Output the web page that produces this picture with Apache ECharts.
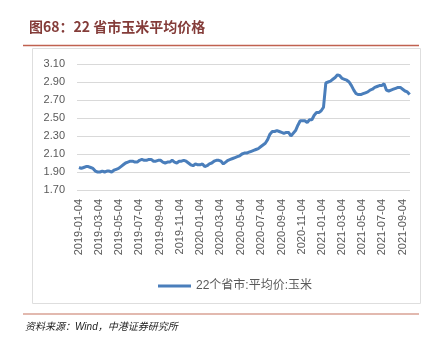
<!DOCTYPE html>
<html>
<head>
<meta charset="utf-8">
<script src="https://cdn.jsdelivr.net/npm/echarts@6/dist/echarts.min.js"></script>
<style>
  html, body { margin: 0; padding: 0; background: #fff; }
  #chart { width: 433px; height: 345px; }
</style>
</head>
<body>
<div id="chart"></div>
<script>
// Weekly average corn price across 22 provinces/cities (yuan/kg), first week 2019-01-04
const seriesName = '22个省市:平均价:玉米';
const firstWeek = [2019, 0, 4];
const weeklyPrice = [
  1.95, 1.94, 1.95, 1.96, 1.96, 1.95, 1.94, 1.91, 1.90, 1.90,
  1.91, 1.90, 1.91, 1.91, 1.90, 1.92, 1.93, 1.94, 1.96, 1.98,
  2.00, 2.01, 2.02, 2.02, 2.01, 2.01, 2.03, 2.04, 2.03, 2.03,
  2.04, 2.04, 2.02, 2.02, 2.03, 2.03, 2.01, 2.00, 2.01, 2.01,
  2.03, 2.01, 2.00, 2.02, 2.02, 2.03, 2.02, 2.00, 1.98, 1.97,
  1.99, 1.98, 1.98, 1.99, 1.96, 1.97, 1.99, 2.00, 2.02, 2.03,
  2.03, 2.02, 1.99, 2.01, 2.03, 2.04, 2.05, 2.06, 2.07, 2.08,
  2.10, 2.11, 2.11, 2.12, 2.13, 2.14, 2.15, 2.16, 2.18, 2.20,
  2.22, 2.26, 2.32, 2.35, 2.35, 2.36, 2.35, 2.34, 2.33, 2.34,
  2.34, 2.30, 2.33, 2.36, 2.42, 2.47, 2.47, 2.47, 2.45, 2.48,
  2.48, 2.53, 2.56, 2.56, 2.58, 2.62, 2.89, 2.90, 2.91, 2.93,
  2.95, 2.98, 2.97, 2.94, 2.93, 2.92, 2.90, 2.86, 2.81, 2.77,
  2.76, 2.76, 2.77, 2.78, 2.79, 2.81, 2.82, 2.84, 2.85, 2.86,
  2.86, 2.88, 2.81, 2.80, 2.81, 2.82, 2.83, 2.84, 2.84, 2.82,
  2.80, 2.79, 2.76
];
const tickLabels = [
  '2019-01-04', '2019-03-04', '2019-05-04', '2019-07-04', '2019-09-04',
  '2019-11-04', '2020-01-04', '2020-03-04', '2020-05-04', '2020-07-04',
  '2020-09-04', '2020-11-04', '2021-01-04', '2021-03-04', '2021-05-04',
  '2021-07-04', '2021-09-04'
];
const yTicks = [1.70, 1.90, 2.10, 2.30, 2.50, 2.70, 2.90, 3.10];

function parseDay(s) {
  const p = s.split('-').map(Number);
  return new Date(p[0], p[1] - 1, p[2]).getTime();
}
function pad(n) { return (n < 10 ? '0' : '') + n; }
function fmtDay(t) {
  const d = new Date(t);
  return d.getFullYear() + '-' + pad(d.getMonth() + 1) + '-' + pad(d.getDate());
}

const points = weeklyPrice.map((v, i) => [
  new Date(firstWeek[0], firstWeek[1], firstWeek[2] + 7 * i).getTime(), v
]);
const axisMin = new Date(firstWeek[0], firstWeek[1], firstWeek[2] - 6).getTime();
const axisMax = new Date(firstWeek[0], firstWeek[1], firstWeek[2] + 995).getTime();

const chart = echarts.init(document.getElementById('chart'), null, { renderer: 'canvas' });
const labelFont = "'Liberation Sans', 'Noto Sans CJK SC', sans-serif";

chart.setOption({
  animation: false,
  backgroundColor: '#ffffff',
  title: {
    text: '图68：22 省市玉米平均价格',
    left: 24,
    top: 15,
    textStyle: {
      color: '#843c39',
      fontSize: 14,
      fontWeight: 'bold',
      fontFamily: "'Noto Sans CJK SC', sans-serif"
    }
  },
  graphic: [
    { type: 'line', shape: { x1: 23, y1: 45.5, x2: 419, y2: 45.5 },
      style: { stroke: '#c0614f', lineWidth: 1.5 }, silent: true },
    { type: 'rect', shape: { x: 32.5, y: 48.5, width: 388, height: 255 },
      style: { fill: 'none', stroke: '#dedede', lineWidth: 1 }, silent: true },
    { type: 'line', shape: { x1: 23, y1: 314, x2: 419, y2: 314 },
      style: { stroke: '#d8a294', lineWidth: 1.5 }, silent: true },
    { type: 'text', left: 25, top: 322,
      style: { text: '资料来源：Wind，中港证券研究所', fill: '#222222',
        font: "italic 10px 'Liberation Sans', 'Noto Sans CJK SC', sans-serif" }, silent: true }
  ],
  legend: {
    data: [seriesName],
    left: 153,
    top: 275,
    icon: 'rect',
    itemWidth: 33,
    itemHeight: 3,
    textStyle: { color: '#595959', fontSize: 12, fontFamily: labelFont }
  },
  grid: { left: 77, right: 23, top: 64, bottom: 155, containLabel: false },
  xAxis: {
    type: 'value',
    min: axisMin,
    max: axisMax,
    axisLine: { show: false },
    axisTick: { show: false },
    splitLine: { show: false },
    axisLabel: {
      customValues: tickLabels.map(parseDay),
      formatter: (v) => fmtDay(v),
      rotate: 90,
      margin: 9,
      hideOverlap: false,
      showMinLabel: true,
      showMaxLabel: true,
      color: '#595959',
      fontSize: 11,
      fontFamily: labelFont
    }
  },
  yAxis: {
    type: 'value',
    min: yTicks[0],
    max: yTicks[yTicks.length - 1],
    interval: 0.2,
    axisLine: { show: false },
    axisTick: { show: false },
    splitLine: { lineStyle: { color: '#d9d9d9', width: 1 } },
    axisLabel: {
      formatter: (v) => v.toFixed(2),
      margin: 12,
      color: '#595959',
      fontSize: 11,
      fontFamily: labelFont
    }
  },
  series: [{
    name: seriesName,
    type: 'line',
    data: points,
    showSymbol: false,
    symbol: 'none',
    color: '#4a7ebb',
    lineStyle: { width: 3, color: '#4a7ebb' }
  }]
});
</script>
</body>
</html>
